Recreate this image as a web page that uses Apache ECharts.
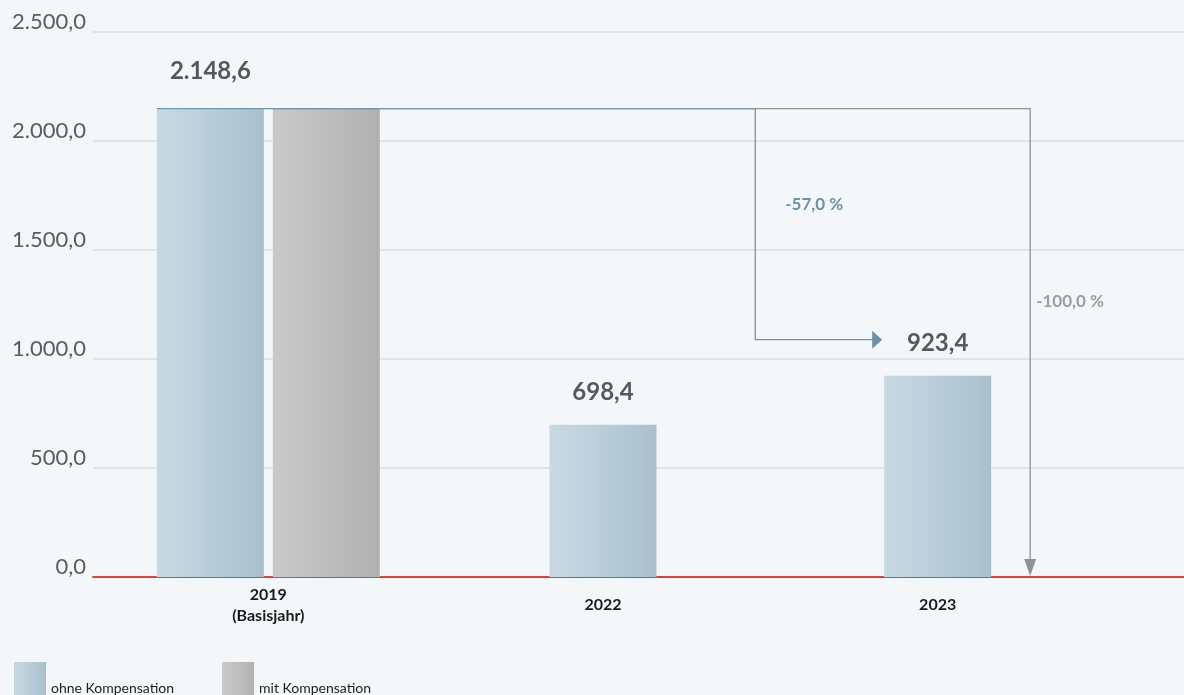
<!DOCTYPE html>
<html><head><meta charset="utf-8">
<script src="https://cdn.jsdelivr.net/npm/echarts@6/dist/echarts.min.js"></script>
<style>html,body{margin:0;padding:0;background:#f3f7fa}#main{width:1184px;height:695px}</style>
</head><body><div id="main"></div>
<script>
// ---- data ----
const categories = ['2019\n(Basisjahr)', '2022', '2023'];
const ohneValues = [2148.6, 698.4, 923.4];
const mitValues = [2148.6, 0, 0];
const yTicks = [0, 500, 1000, 1500, 2000, 2500];
const seriesNames = ['ohne Kompensation', 'mit Kompensation'];
const changeLabels = ['-57,0 %', '-100,0 %'];

// ---- helpers ----
function de(v) {
  const s = Number(v).toFixed(1).split('.');
  return s[0].replace(/\B(?=(\d{3})+(?!\d))/g, '.') + ',' + s[1];
}
const FONT = 'Lato, "Open Sans", "DejaVu Sans", sans-serif';
const blueGrad = new echarts.graphic.LinearGradient(0, 0, 1, 0, [
  { offset: 0, color: '#c9d9e3' }, { offset: 0.5, color: '#b9cdd9' }, { offset: 1, color: '#a8c0ce' }]);
const grayGrad = new echarts.graphic.LinearGradient(0, 0, 1, 0, [
  { offset: 0, color: '#cacaca' }, { offset: 0.5, color: '#bebebe' }, { offset: 1, color: '#b1b1b1' }]);
const BAR_W = 107, BAR_GAP = 9;

const valueLabel = {
  show: true, position: 'top', distance: 20,
  fontFamily: FONT, fontSize: 24, fontWeight: 'bold', color: '#55595d',
  formatter: p => de(p.value)
};

const chart = echarts.init(document.getElementById('main'));
const option = {
  backgroundColor: '#f3f7fa',
  textStyle: { fontFamily: FONT },
  animation: false,
  grid: [
    { left: 93, right: 0, top: 32, bottom: 118 },
    { left: 101, right: 79, top: 32, bottom: 118 }
  ],
  xAxis: [
    { gridIndex: 0, type: 'value', min: 0, max: 1,
      axisLine: { show: true, lineStyle: { color: '#e2413a', width: 2 } },
      axisTick: { show: false }, axisLabel: { show: false }, splitLine: { show: false } },
    { gridIndex: 1, type: 'category', data: categories,
      axisLine: { show: false }, axisTick: { show: false },
      axisLabel: { margin: 28, verticalAlign: 'middle', fontFamily: FONT, fontSize: 16,
        fontWeight: 'bold', color: '#1a1a1a', lineHeight: 21 } },
    { gridIndex: 1, type: 'category', data: categories, show: false }
  ],
  yAxis: [
    { gridIndex: 0, type: 'value', min: yTicks[0], max: yTicks[yTicks.length - 1],
      interval: yTicks[1] - yTicks[0],
      axisLine: { show: false }, axisTick: { show: false },
      axisLabel: { margin: 7, fontFamily: FONT, fontSize: 22, color: '#595d61',
        verticalAlign: 'bottom', lineHeight: 20, formatter: v => de(v) },
      splitLine: { lineStyle: { color: '#dadee1', width: 1.5 } } },
    { gridIndex: 1, type: 'value', min: yTicks[0], max: yTicks[yTicks.length - 1], show: false }
  ],
  legend: {
    left: 14, top: 662, padding: 0, itemWidth: 32, itemHeight: 33, itemGap: 48, icon: 'rect',
    selectedMode: false, data: seriesNames,
    formatter: name => '{t|' + name + '}',
    textStyle: { fontFamily: FONT, fontSize: 14, color: '#1d1d1d',
      rich: { t: { fontFamily: FONT, fontSize: 14, color: '#1d1d1d', padding: [20, 0, 0, 0] } } }
  },
  series: [
    { name: seriesNames[0], type: 'bar', xAxisIndex: 2, yAxisIndex: 1,
      data: ohneValues.map((v, i) => i === 0 ? { value: v, label: { distance: 25 } } : null),
      barWidth: BAR_W, barGap: (BAR_GAP / BAR_W * 100).toFixed(1) + '%',
      itemStyle: { color: blueGrad }, label: valueLabel },
    { name: seriesNames[1], type: 'bar', xAxisIndex: 2, yAxisIndex: 1,
      data: mitValues.map((v, i) => i === 0 ? v : null),
      barWidth: BAR_W, barGap: (BAR_GAP / BAR_W * 100).toFixed(1) + '%',
      itemStyle: { color: grayGrad } },
    { name: seriesNames[0], type: 'bar', xAxisIndex: 1, yAxisIndex: 1,
      data: ohneValues.map((v, i) => i === 0 ? null : v),
      barWidth: BAR_W, itemStyle: { color: blueGrad }, label: valueLabel }
  ]
};
chart.setOption(option);

// ---- annotation connectors, positioned through the axes ----
const cx = i => chart.convertToPixel({ xAxisIndex: 1 }, i);
const cy = v => chart.convertToPixel({ yAxisIndex: 1 }, v);
const c0 = cx(0), c1 = cx(1), c2 = cx(2);
const yTop = cy(ohneValues[0]);
const y0 = cy(0);
const ohneLeft0 = c0 - (2 * BAR_W + BAR_GAP) / 2;
const mitLeft0 = c0 + BAR_GAP / 2;
const xv1 = c1 + 0.455 * (c2 - c1);
const xv2 = c2 + BAR_W / 2 + 39;
const yArrow = cy(ohneValues[2]) - 36;
const tip1 = c2 - BAR_W / 2 - 2;

chart.setOption({
  graphic: [
    { type: 'polyline', z: 10, shape: { points: [[mitLeft0, yTop], [xv2, yTop], [xv2, y0 - 17]] },
      style: { stroke: '#8d9296', lineWidth: 1.3, fill: null } },
    { type: 'polygon', z: 10, shape: { points: [[xv2 - 6, y0 - 18], [xv2 + 6, y0 - 18], [xv2, y0 - 1]] },
      style: { fill: '#8f9396' } },
    { type: 'polyline', z: 11, shape: { points: [[ohneLeft0, yTop], [xv1, yTop], [xv1, yArrow], [tip1 - 9, yArrow]] },
      style: { stroke: '#7296ab', lineWidth: 1.3, fill: null } },
    { type: 'polygon', z: 11, shape: { points: [[tip1 - 10, yArrow - 9], [tip1, yArrow], [tip1 - 10, yArrow + 9]] },
      style: { fill: '#6a92a8' } },
    { type: 'text', z: 12, x: xv1 + 30, y: yTop + 0.415 * (yArrow - yTop),
      style: { text: changeLabels[0], fill: '#6b91a7', font: 'bold 17px ' + FONT, verticalAlign: 'middle' } },
    { type: 'text', z: 12, x: xv2 + 6, y: yTop + 0.412 * (y0 - yTop),
      style: { text: changeLabels[1], fill: '#9a9ea1', font: 'bold 17px ' + FONT, verticalAlign: 'middle' } }
  ]
});
</script></body></html>
